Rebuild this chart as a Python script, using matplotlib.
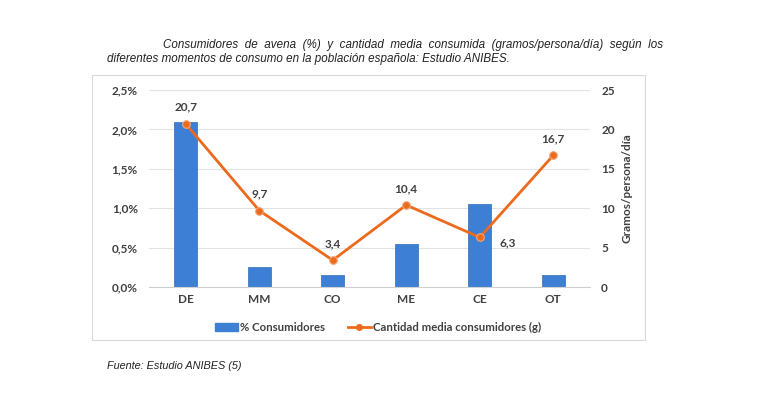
import matplotlib
matplotlib.use("Agg")
import matplotlib.pyplot as plt
from matplotlib.patches import Rectangle
from matplotlib.lines import Line2D
from matplotlib.ticker import FuncFormatter

categories = ["DE", "MM", "CO", "ME", "CE", "OT"]
pct_consumers = [2.1, 0.25, 0.15, 0.55, 1.05, 0.15]
grams = [20.7, 9.7, 3.4, 10.4, 6.3, 16.7]
grams_labels = ["20,7", "9,7", "3,4", "10,4", "6,3", "16,7"]
left_ticks = [0.0, 0.5, 1.0, 1.5, 2.0, 2.5]
right_ticks = [0, 5, 10, 15, 20, 25]

W, H = 760, 400
fig = plt.figure(figsize=(W / 100, H / 100), dpi=100)
fig.patch.set_facecolor("white")

def fx(px):
    return px / W

def fy(py):
    return 1 - py / H

# chart box
fig.patches.append(Rectangle((fx(92), fy(340)), fx(645) - fx(92), fy(75) - fy(340),
                             transform=fig.transFigure, fill=False, edgecolor="#d9d9d9", lw=0.8))

ax = fig.add_axes([fx(149), fy(287), fx(590) - fx(149), fy(90) - fy(287)])
ax2 = ax.twinx()

x = list(range(len(categories)))
blue = "#3c7fd4"
orange = "#ec6a1c"
txt = "#404040"
font = "Lato"

ax.bar(x, pct_consumers, width=0.31, color=blue, edgecolor="#2f6db8", lw=0.5, zorder=2)
ax.set_ylim(0, 2.5)
ax.set_xlim(-0.5, len(categories) - 0.5)
ax.set_yticks(left_ticks)
ax.yaxis.set_major_formatter(FuncFormatter(lambda v, p: f"{v:.1f}%".replace(".", ",")))
ax.grid(axis="y", color="#e3e3e3", lw=0.8, zorder=0)
ax.set_axisbelow(True)
for s in ["top", "right", "left"]:
    ax.spines[s].set_visible(False)
ax.spines["bottom"].set_color("#d0d0d0")
ax.set_xticks(x)
ax.set_xticklabels(categories)
ax.tick_params(axis="x", length=0, colors=txt, labelsize=8.5, pad=5)
ax.tick_params(axis="y", length=0, colors=txt, labelsize=8.5, pad=8)
for lab in ax.get_xticklabels() + ax.get_yticklabels():
    lab.set_fontfamily(font)
    lab.set_fontweight("bold")

ax2.plot(x, grams, color=orange, lw=2, marker="o", ms=5.5, mfc=orange, mec="#f3a57a", mew=0.8, zorder=3)
ax2.set_ylim(0, 25)
ax2.set_yticks(right_ticks)
for s in ["top", "right", "left", "bottom"]:
    ax2.spines[s].set_visible(False)
ax2.tick_params(axis="y", length=0, colors=txt, labelsize=8.5, pad=8)
for lab in ax2.get_yticklabels():
    lab.set_fontfamily(font)
    lab.set_fontweight("bold")
ax2.set_ylabel("Gramos/persona/día", color=txt, fontsize=8.5, fontfamily=font,
               fontweight="bold", labelpad=5)

for i, (v, lab) in enumerate(zip(grams, grams_labels)):
    if lab == "6,3":
        ax2.annotate(lab, (i, v), xytext=(14, -4), textcoords="offset points", ha="left", va="center",
                     fontsize=8.5, color=txt, fontfamily=font, fontweight="bold")
    else:
        ax2.annotate(lab, (i, v), xytext=(0, 8), textcoords="offset points", ha="center", va="bottom",
                     fontsize=8.5, color=txt, fontfamily=font, fontweight="bold")

handles = [Rectangle((0, 0), 1, 1, color=blue),
           Line2D([0], [0], color=orange, lw=2, marker="o", ms=4)]
leg = fig.legend(handles, ["% Consumidores", "Cantidad media consumidores (g)"],
                 loc="center", bbox_to_anchor=(fx(378), fy(327)), ncol=2, frameon=False,
                 prop={"family": font, "weight": "bold", "size": 8.2}, handlelength=2.0,
                 columnspacing=2.0, handletextpad=0.2)
for t in leg.get_texts():
    t.set_color(txt)

title_kw = dict(fontsize=8.4, style="italic", family="Liberation Sans", color="#222222")
fig.text(fx(163), fy(45), "Consumidores  de  avena  (%)  y  cantidad  media  consumida  (gramos/persona/día)  según  los",
         ha="left", va="center", **title_kw)
fig.text(fx(107), fy(59), "diferentes momentos de consumo en la población española: Estudio ANIBES.",
         ha="left", va="center", **title_kw)
fig.text(fx(107), fy(366), "Fuente: Estudio ANIBES (5)", ha="left", va="center",
         fontsize=7.8, family="Liberation Sans", color="#222222", style="italic")

fig.savefig("out.png", dpi=100, facecolor="white")
